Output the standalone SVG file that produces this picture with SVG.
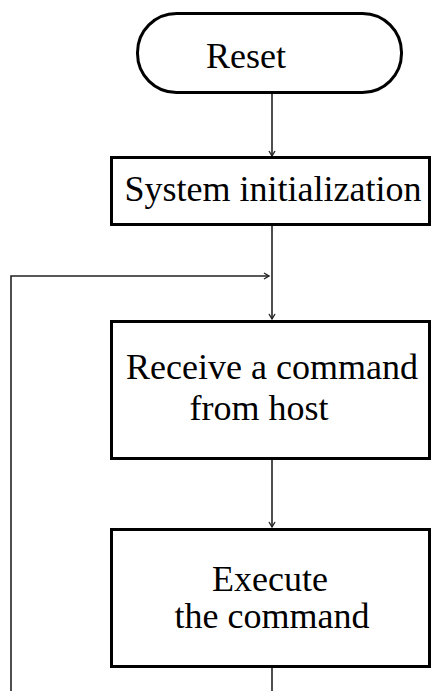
<svg xmlns="http://www.w3.org/2000/svg" width="431" height="691" viewBox="0 0 431 691">
<style>
.node{fill:#fff;stroke:#000;stroke-width:3}
.lbl{font-family:"Liberation Serif","Times New Roman",serif;font-size:36px;fill:#000;text-anchor:middle}
.conn{fill:none;stroke:#222;stroke-width:1.6}
</style>
<defs>
<marker id="ah" markerWidth="10" markerHeight="10" refX="7" refY="5" orient="auto" markerUnits="userSpaceOnUse">
<path d="M2,2 L7,5 L2,8" fill="none" stroke="#222" stroke-width="1.4"/>
</marker>
</defs>
<g id="connectors">
<path class="conn" d="M272,93 V156" marker-end="url(#ah)"/>
<path class="conn" d="M272,225 V319" marker-end="url(#ah)"/>
<path class="conn" d="M11,691 V276 H269" marker-end="url(#ah)"/>
<path class="conn" d="M272,459 V527" marker-end="url(#ah)"/>
<path class="conn" d="M272,668 V691"/>
</g>
<g id="reset">
<rect class="node" x="137.5" y="13.5" width="264" height="79" rx="39" ry="39"/>
<text class="lbl" x="246" y="68">Reset</text>
</g>
<g id="sysinit">
<rect class="node" x="111.5" y="157.5" width="318" height="67"/>
<text class="lbl" x="273" y="201">System initialization</text>
</g>
<g id="receive">
<rect class="node" x="111.5" y="321.5" width="318" height="137"/>
<text class="lbl" x="272" y="379">Receive a command</text>
<text class="lbl" x="259" y="420">from host</text>
</g>
<g id="execute">
<rect class="node" x="111.5" y="529.5" width="318" height="137"/>
<text class="lbl" x="270" y="591">Execute</text>
<text class="lbl" x="272" y="628">the command</text>
</g>
</svg>
